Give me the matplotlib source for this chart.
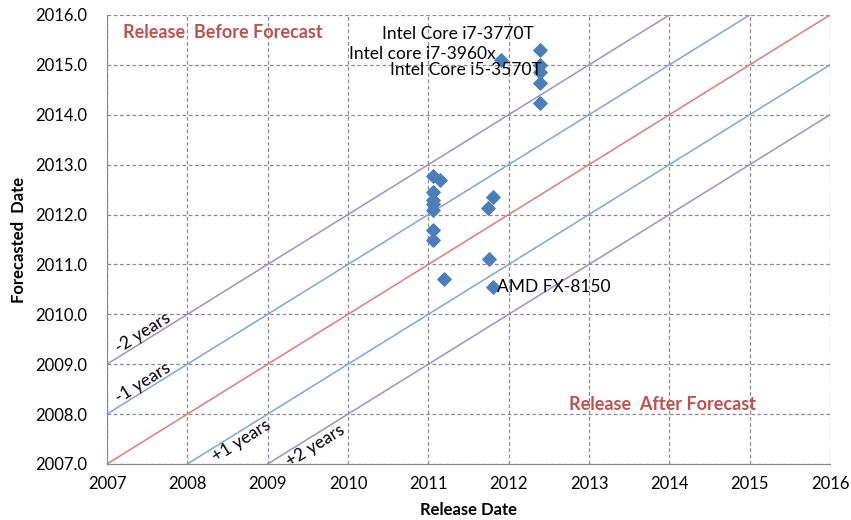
import numpy as np
import matplotlib.pyplot as plt

plt.rcParams['font.family'] = ['Lato', 'DejaVu Sans']

# release date vs forecasted date
release = [2011.91, 2012.39, 2012.39, 2012.39, 2012.39, 2012.39,
           2011.06, 2011.15, 2011.06, 2011.06, 2011.06, 2011.06,
           2011.06, 2011.06, 2011.19, 2011.81, 2011.74, 2011.75, 2011.81]
forecast = [2015.10, 2015.30, 2015.00, 2014.86, 2014.63, 2014.23,
            2012.78, 2012.69, 2012.46, 2012.29, 2012.22, 2012.09,
            2011.69, 2011.49, 2010.70, 2012.36, 2012.13, 2011.10, 2010.54]

offsets = [-2, -1, 0, 1, 2]
offset_colors = ['#A28FC6', '#7DA7D9', '#E07B7B', '#7DA7D9', '#A28FC6']

point_labels = ['Intel Core i7-3770T', 'Intel core i7-3960x', 'Intel Core i5-3570T', 'AMD FX-8150']
label_x = [2010.42, 2010.01, 2010.52, 2011.86]
label_y = [2015.62, 2015.22, 2014.90, 2010.55]

offset_labels = ['-2 years', '-1 years', '+1 years', '+2 years']
offset_lab_x = [2007.45, 2007.45, 2008.67, 2009.6]
offset_lab_y = [2009.62, 2008.62, 2007.47, 2007.36]

fig = plt.figure(figsize=(8.51, 5.2), dpi=100)
ax = fig.add_axes([0.1257, 0.1077, 0.8496, 0.8635])

xs = np.array([2007, 2016])
for k, c in zip(offsets, offset_colors):
    ax.plot(xs, xs - k, color=c, lw=1.1, zorder=2)

ax.scatter(release, forecast, marker='D', s=46, color='#4A7EBB', zorder=3)

for t, x, y in zip(point_labels, label_x, label_y):
    ax.text(x, y, t, fontsize=12.5, va='center', ha='left', zorder=4)

for t, x, y in zip(offset_labels, offset_lab_x, offset_lab_y):
    ax.text(x, y, t, fontsize=12.5, rotation=32, ha='center', va='center',
            rotation_mode='anchor')

ax.text(2007.2, 2015.65, 'Release  Before Forecast', color='#C0504D',
        fontsize=13, fontweight='bold', va='center')
ax.text(2012.75, 2008.2, 'Release  After Forecast', color='#C0504D',
        fontsize=13, fontweight='bold', va='center')

ax.set_xlim(2007, 2016)
ax.set_ylim(2007, 2016)
ax.set_xticks(range(2007, 2017))
ax.set_yticks(range(2007, 2017))
ax.set_yticklabels([f'{v:.1f}' for v in range(2007, 2017)])
ax.tick_params(length=0, labelsize=12)
ax.tick_params(axis='y', pad=14)
ax.tick_params(axis='x', pad=9)
ax.grid(True, ls=(0, (3, 2)), color='#8c8c8c', lw=0.9)
ax.set_axisbelow(True)
for s in ['top', 'right']:
    ax.spines[s].set_visible(False)
for s in ['left', 'bottom']:
    ax.spines[s].set_color('#888888')
ax.set_xlabel('Release Date', fontsize=12, fontweight='bold')
ax.set_ylabel('Forecasted  Date', fontsize=12, fontweight='bold')
ax.xaxis.set_label_coords(0.5, -0.085)
ax.yaxis.set_label_coords(-0.111, 0.5)

fig.savefig('out.png', dpi=100)
